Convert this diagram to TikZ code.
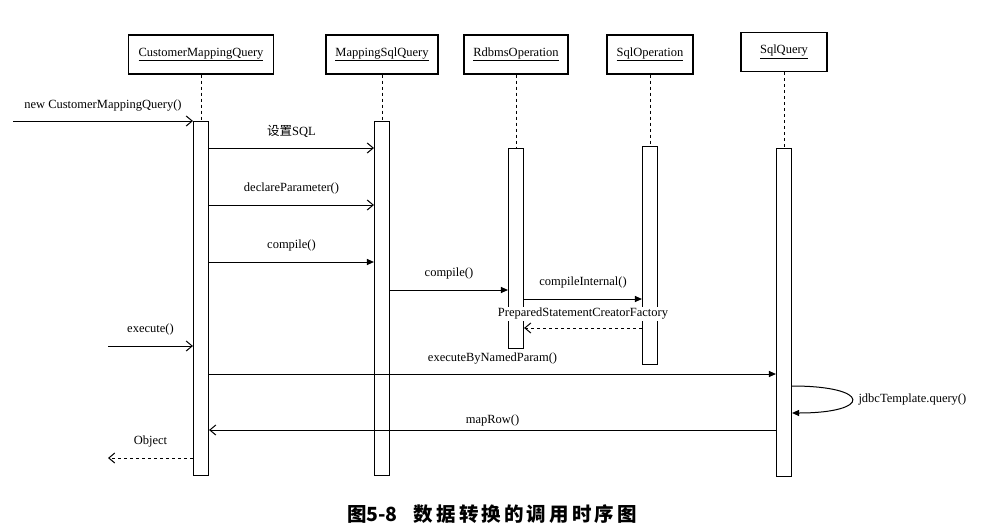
\documentclass[tikz,border=0pt]{standalone}
\usepackage{fontspec}
\setmainfont{Liberation Serif}
\newfontfamily\cjk{Noto Sans CJK SC}
\usepackage{tikz}
\usetikzlibrary{arrows.meta, positioning}

\begin{document}
\begin{tikzpicture}[x=1pt, y=-1pt,
  obj/.style={draw, line width=1.1pt, minimum height=39pt, inner sep=0pt, font=\fontsize{12.5}{15}\selectfont},
  bar/.style={draw, line width=1.1pt, fill=white, minimum width=15pt, inner sep=0pt, anchor=north},
  life/.style={dashed, line width=1pt},
  msg/.style={line width=1pt, -{Straight Barb[length=6pt, width=10pt]}},
  sync/.style={line width=1pt, -{Triangle[length=7pt, width=6pt]}},
  ret/.style={msg, dashed},
  lbl/.style={font=\fontsize{12.5}{15}\selectfont, inner sep=1pt}
]
\useasboundingbox (0,0) rectangle (1006,530);

% objects
\node[obj, minimum width=145pt] (cmq) at (201,54.5) {\underline{CustomerMappingQuery}};
\node[obj, minimum width=112pt] (msq) at (382,54.5) {\underline{MappingSqlQuery}};
\node[obj, minimum width=104pt] (rdo) at (516,54.5) {\underline{RdbmsOperation}};
\node[obj, minimum width=86pt] (sop) at (650,54.5) {\underline{SqlOperation}};
\node[obj, minimum width=86pt] (sqq) at (784,52) {\underline{SqlQuery}};

% activation bars
\node[bar, minimum height=354pt] (cmqbar) at (201,121) {};
\node[bar, minimum height=354pt] (msqbar) at (382,121) {};
\node[bar, minimum height=200pt] (rdobar) at (516,148) {};
\node[bar, minimum height=218pt] (sopbar) at (650,146) {};
\node[bar, minimum height=328pt] (sqqbar) at (784,148) {};

\foreach \o in {cmq,msq,rdo,sop,sqq}
  \draw[life] (\o) -- (\o bar);

% message rows
\coordinate (newsrc) at (13,121);
\coordinate (exesrc) at (108,346);
\coordinate (objdst) at (108,458);
\coordinate (r1) at (0,148);
\coordinate (r2) at (0,205);
\coordinate (r3) at (0,262);
\coordinate (r4) at (0,290);
\coordinate (r5) at (0,299);
\coordinate (r6) at (0,328);
\coordinate (r7) at (0,374);
\coordinate (r8) at (0,386);
\coordinate (r9) at (0,413);
\coordinate (r10) at (0,430);

\draw[msg] (newsrc) -- (cmqbar.north west) node[lbl, midway, above=8pt] {new CustomerMappingQuery()};
\draw[msg] (cmqbar.east |- r1) -- (msqbar.west |- r1) node[lbl, midway, above=9pt] {{\cjk 设置}SQL};
\draw[msg] (cmqbar.east |- r2) -- (msqbar.west |- r2) node[lbl, midway, above=9pt] {declareParameter()};
\draw[sync] (cmqbar.east |- r3) -- (msqbar.west |- r3) node[lbl, midway, above=9pt] {compile()};
\draw[sync] (msqbar.east |- r4) -- (rdobar.west |- r4) node[lbl, midway, above=9pt] {compile()};
\draw[sync] (rdobar.east |- r5) -- (sopbar.west |- r5) node[lbl, midway, above=9pt] {compileInternal()};
\draw[ret] (sopbar.west |- r6) -- (rdobar.east |- r6) node[lbl, midway, above=7pt, fill=white] {PreparedStatementCreatorFactory};
\draw[msg] (exesrc) -- (cmqbar.west |- exesrc) node[lbl, midway, above=9pt] {execute()};
\draw[sync] (cmqbar.east |- r7) -- (sqqbar.west |- r7) node[lbl, midway, above=8pt] {executeByNamedParam()};
\draw[sync] (sqqbar.east |- r8) .. controls (872,386) and (872,413) .. (sqqbar.east |- r9)
  node[lbl, pos=0.5, right=5pt] {jdbcTemplate.query()};
\draw[msg] (sqqbar.west |- r10) -- (cmqbar.east |- r10) node[lbl, midway, above=2pt] {mapRow()};
\draw[ret] (cmqbar.west |- objdst) -- (objdst) node[lbl, midway, above=9pt] {Object};

% caption
\node[font=\cjk\bfseries\fontsize{19.5}{22}\selectfont] (cap) at (492,514)
  {图5-8\hspace{16pt}\addfontfeatures{LetterSpace=16}数据转换的调用时序图};
\end{tikzpicture}
\end{document}
